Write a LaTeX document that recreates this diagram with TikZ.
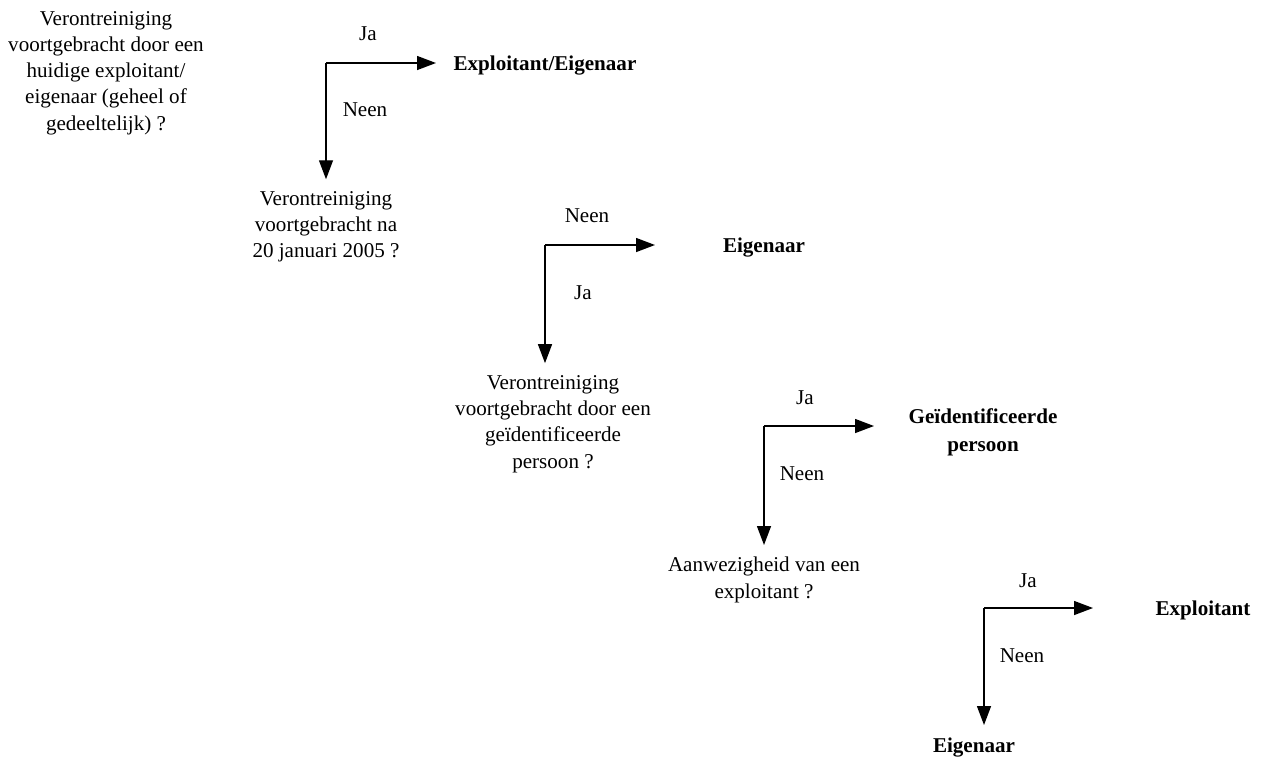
\documentclass[tikz,border=0pt]{standalone}
\usepackage{fontspec}
\setmainfont{Liberation Serif}
\usetikzlibrary{arrows.meta}
\tikzset{
  flow/.style={draw, line width=0.8pt, -{Triangle[length=0.38cm,width=0.28cm]}},
  vraag/.style={align=center, inner sep=0.24cm, font=\fontsize{12}{14.9}\selectfont},
  antw/.style={align=center, inner sep=0pt, font=\fontsize{12}{15.8}\selectfont\bfseries},
  lbl/.style={inner sep=0pt, font=\fontsize{12}{14}\selectfont}
}
\begin{document}
\begin{tikzpicture}[x=0.02cm, y=-0.02cm]
        \useasboundingbox (0,0) rectangle (1261,758);
        % Questions
        \node[vraag] (q1) at (106,73) {Verontreiniging\\voortgebracht door een\\huidige exploitant/\\eigenaar (geheel of\\gedeeltelijk) ?};
        \node[vraag] (q2) at (326,227) {Verontreiniging\\voortgebracht na\\20 januari 2005 ?};
        \node[vraag] (q3) at (553,424) {Verontreiniging\\voortgebracht door een\\geïdentificeerde\\persoon ?};
        \node[vraag] (q4) at (764,580) {Aanwezigheid van een\\exploitant ?};
        \node[vraag, font=\fontsize{12}{14.9}\selectfont\bfseries] (q5) at (974,747) {Eigenaar};
        % Answers
        \node[antw] (a1) at (545,66) {Exploitant/Eigenaar};
        \node[antw] (a2) at (764,248) {Eigenaar};
        \node[antw] (a3) at (983,432) {Geïdentificeerde\\persoon};
        \node[antw] (a4) at (1203,610) {Exploitant};
        % Corners and arrow ends
        \coordinate (c1) at (326,63);
        \coordinate (c2) at (545,245);
        \coordinate (c3) at (764,426);
        \coordinate (c4) at (984,608);
        \coordinate (e1) at (436,63);
        \coordinate (e2) at (655,245);
        \coordinate (e3) at (874,426);
        \coordinate (e4) at (1093,608);
        % Arrows
        \draw[flow] (c1) -- (e1);
        \draw[flow] (c1) -- (c1 |- q2.north);
        \draw[flow] (c2) -- (e2);
        \draw[flow] (c2) -- (c2 |- q3.north);
        \draw[flow] (c3) -- (e3);
        \draw[flow] (c3) -- (c3 |- q4.north);
        \draw[flow] (c4) -- (e4);
        \draw[flow] (c4) -- (c4 |- q5.north);
        % Labels on the arrows
        \node[lbl] (l1a) at (368,34) {Ja};
        \node[lbl] (l1b) at (365,110) {Neen};
        \node[lbl] (l2a) at (587,216) {Neen};
        \node[lbl] (l2b) at (583,293) {Ja};
        \node[lbl] (l3a) at (805,398) {Ja};
        \node[lbl] (l3b) at (802,474) {Neen};
        \node[lbl] (l4a) at (1028,581) {Ja};
        \node[lbl] (l4b) at (1022,656) {Neen};
\end{tikzpicture}
\end{document}
